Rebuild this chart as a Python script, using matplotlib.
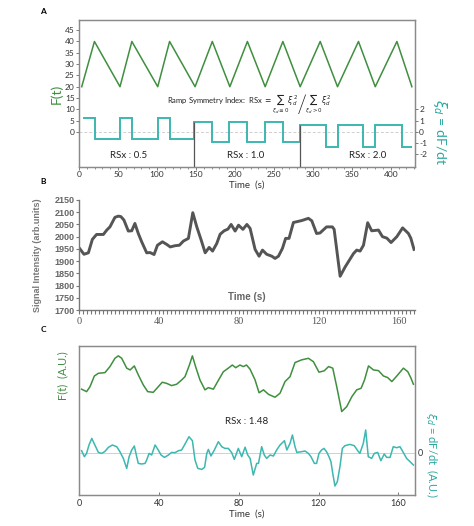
import matplotlib
matplotlib.use('Agg')
import matplotlib.pyplot as plt
from matplotlib.ticker import MultipleLocator

plt.rcParams['font.family'] = ['Lato', 'DejaVu Sans']
plt.rcParams['mathtext.fontset'] = 'dejavusans'
plt.rcParams['axes.unicode_minus'] = False

# ---------------- data ----------------
# Panel A: ramp F(t) vertices
tri_t = [3.5, 19.8, 52.6, 67.8, 101, 116.2, 148.9, 171, 193.5, 216, 238.8, 261.5,
         283.7, 309.4, 331.6, 358.5, 380, 407.8, 427]
tri_v = [20, 40, 20, 40, 20, 40, 20, 40, 20, 40, 20, 40, 20, 40, 20, 40, 20, 40, 20]
# Panel A: derivative square wave (edges and levels)
sq_edges = [5.6, 20.5, 52.6, 67.6, 101, 116.8, 148, 170.3, 192.6, 215.5, 238.8, 261.5,
            283.7, 316.6, 331.6, 364.9, 380, 414.3, 427]
sq_levels = [1.25, -0.65, 1.25, -0.65, 1.25, -0.65, 0.89, -0.95, 0.89, -0.95, 0.89, -0.95,
             0.6, -1.34, 0.6, -1.34, 0.6, -1.34]
seg_bounds = [148, 283.7]
seg_tops = [0.89, 0.6]
seg_labels = ['RSx : 0.5', 'RSx : 1.0', 'RSx : 2.0']
seg_centers = [64, 214, 370]

# Panel B: signal intensity
b_t = [0, 2.5, 4.7, 6.7, 8.8, 12.2, 13.9, 15.5, 18, 19.7, 21, 22.5, 24.7, 26.4, 28, 29.7,
       31.4, 33.9, 35.6, 37.6, 39.3, 41.8, 44, 45.7, 48.1, 50.3, 52.3, 54.8, 57, 59, 61.2,
       63.2, 65.2, 66.9, 69, 70.7, 72.7, 74.6, 76.2, 78.2, 79.9, 82.1, 84.1, 85.7, 88.2,
       90.2, 91.9, 94, 96.6, 98.2, 99.9, 101.9, 103.5, 105.2, 107.4, 111.6, 114.9, 116.6,
       119, 120.7, 124, 126.9, 127.8, 130.8, 133.3, 137.5, 139.1, 140.8, 142.5, 144.6,
       146.6, 150, 152, 154.2, 156.3, 159.2, 162.1, 165, 166.2, 167.8]
b_v = [1955, 1928, 1934, 1989, 2009, 2009, 2027, 2040, 2079, 2084, 2082, 2068, 2023, 2024,
       2054, 2013, 1979, 1934, 1935, 1927, 1965, 1979, 1968, 1958, 1963, 1965, 1982, 1993,
       2098, 2040, 1986, 1934, 1956, 1941, 1972, 2010, 2024, 2031, 2050, 2023, 2047, 2030,
       2050, 2034, 1948, 1920, 1945, 1928, 1920, 1911, 1920, 1952, 1993, 1993, 2058, 2066,
       2075, 2065, 2013, 2015, 2040, 2040, 2030, 1838, 1876, 1931, 1945, 1941, 1965, 2057,
       2024, 2027, 2000, 1994, 1976, 2000, 2036, 2013, 1994, 1948]

# Panel C: smoothed F(t)
c_t = [1.3, 3.8, 5.5, 7.7, 9.7, 13, 15.5, 18, 19.7, 21.4, 23.9, 25.6, 27.7, 29.7, 32.2,
       34.4, 37.2, 39.7, 41.7, 43.9, 46.4, 48.9, 51.4, 53.1, 55.3, 56.8, 58.4, 60.6, 63.1,
       64.8, 67.3, 70.1, 72.3, 74.8, 76.8, 78.5, 80.6, 82.3, 83.9, 85.7, 88.2, 90.2, 92.4,
       94.9, 98.2, 100.7, 103.2, 105.7, 108.2, 111.5, 114.9, 117.4, 120.2, 122.8, 125,
       127.1, 129.1, 131.6, 134.1, 136.7, 139.1, 141.3, 143, 145, 147.5, 150, 152.5, 154.6,
       156.7, 159.2, 162.5, 164.7, 166.3, 167.5]
c_f = [1945, 1934, 1956, 2004, 2016, 2019, 2046, 2083, 2094, 2083, 2039, 2031, 2049, 2009,
       1964, 1934, 1931, 1956, 1976, 1971, 1961, 1967, 1986, 2001, 2053, 2094, 2046, 1986,
       1942, 1952, 1945, 1989, 2023, 2039, 2053, 2041, 2053, 2046, 2053, 2034, 1986, 1929,
       1942, 1922, 1909, 1927, 1979, 2001, 2064, 2076, 2083, 2068, 2021, 2027, 2046, 2039,
       1956, 1845, 1867, 1912, 1942, 1949, 1986, 2049, 2031, 2028, 2004, 1997, 1979, 2004,
       2039, 2023, 1994, 1967]

# Panel C: derivative
d_t = [1.3, 2.7, 3.8, 5, 6.4, 7.7, 9.7, 11.4, 13, 14.7, 16.7, 18.9, 20.5, 22.2, 23.9, 25.1,
       26.4, 27.7, 28.9, 29.7, 31.4, 33.1, 33.9, 35.1, 36.4, 38.1, 39.7, 41.1, 42.8, 44.8,
       46.4, 48.1, 49.8, 51.4, 53.1, 55.1, 56.8, 58.1, 59.5, 61.5, 62.9, 64, 64.8, 66.1,
       67.8, 69.8, 71.5, 73.1, 74.8, 76.5, 77.8, 79.8, 81.5, 83.2, 84.5, 85.7, 87.3, 89,
       89.9, 91.5, 92.8, 94, 95.7, 97.4, 99, 100.7, 102.9, 104.1, 105.7, 106.9, 108.2,
       109.1, 111.5, 113.2, 114.9, 116.2, 117.9, 119, 120.2, 121.5, 122.7, 124, 125.2,
       126.2, 127.1, 128.2, 129.4, 130.7, 131.9, 133.2, 135.7, 137.9, 139.6, 140.7, 142.4,
       143.6, 144.9, 146.6, 147.9, 149.6, 151.2, 152.9, 154.1, 155.8, 157.4, 159.1, 160.8,
       162.5, 164.1, 165.8, 167.5]
d_v = [0.2, -0.4, -0.07, 0.77, 1.43, 0.87, 0.03, -0.07, 0.13, 0.53, 0.77, 0.6, 0.1, -0.57,
       -1.57, -0.4, 0.27, 0.67, -0.4, -1.07, -1.13, -1.07, -0.73, -0.07, -0.23, 0.77, 0.27,
       -0.23, -0.47, -0.23, 0.03, 0, 0.2, 0.27, 0.87, 1.6, 1.2, -0.73, -1.57, -1.67, -1.47,
       -0.07, 0.33, -0.33, 0.27, 1.1, 0.6, 0.43, 0.43, 0, -0.67, 0.43, -0.4, 0.55, -0.23,
       -0.57, -2.23, -1.07, -1.07, 0.6, -0.23, -0.57, -0.23, -0.33, 0.27, 0.77, 1.2, 0.27,
       0.93, 1.77, 0.6, 0.03, 0.1, 0.17, -0.07, -0.4, -1.07, -1.07, -0.07, 0.27, 0.43, 0.1,
       -0.4, -0.9, -2.07, -3.33, -2.9, -1.4, 0.43, 0.7, 0.83, 0.7, 0.2, -0.07, 0.93, 2.27,
       -0.4, -0.57, -0.07, 0.03, -0.8, -0.13, -0.47, -0.47, 0.6, 0.5, 0.6, 0, -0.57, -0.9,
       -1.23]

# ---------------- styling ----------------
GREEN = '#3f8f3f'
TEAL = '#3cb8b0'
TEAL_TXT = '#2aa8a0'
SPINE = '#8a8a8a'
TXT = '#333333'

W, H = 474, 526
fig = plt.figure(figsize=(W / 100, H / 100), dpi=100)


def rect(l, t, r, b):
    return [l / W, 1 - b / H, (r - l) / W, (b - t) / H]


def style_box(ax):
    for s in ax.spines.values():
        s.set_color(SPINE)
        s.set_linewidth(0.9)


# ---------------- Panel A ----------------
axA = fig.add_axes(rect(79, 20, 415, 167))
axA.plot(tri_t, tri_v, color=GREEN, lw=1.1)
axA.set_xlim(0, 431)
axA.set_ylim(-15.5, 49.5)
axA.set_yticks(range(0, 50, 5))
axA.set_xticks(range(0, 450, 50))
axA.xaxis.set_minor_locator(MultipleLocator(10))
axA.tick_params(labelsize=6, length=2, width=0.6, color='#666666', labelcolor=TXT, pad=1)
axA.tick_params(axis='x', which='minor', length=1.5, width=0.5, color='#666666')
axA.set_ylabel('F(t)', color=GREEN, fontsize=10, labelpad=2)
axA.set_xlabel('Time  (s)', fontsize=7, color=TXT, labelpad=1.5)
style_box(axA)

axA2 = axA.twinx()
axA2.axhline(0, color='#cfcfcf', lw=0.7, ls=(0, (3, 2)), zorder=0)
axA2.stairs(sq_levels, sq_edges, color=TEAL, lw=1.4, baseline=None)
axA2.vlines(seg_bounds, -3.15, seg_tops, color='#555555', lw=0.9)
axA2.set_ylim(-3.15, 10)
axA2.set_yticks([-2, -1, 0, 1, 2])
axA2.tick_params(labelsize=6, length=2, width=0.6, color='#666666', labelcolor=TXT, pad=1)
axA2.set_ylabel(r'$\xi_d$ = dF/dt', color=TEAL_TXT, fontsize=10, rotation=270, labelpad=11)
axA2.yaxis.set_label_coords(1.10, 0.24)
style_box(axA2)
for lbl, cx in zip(seg_labels, seg_centers):
    axA2.text(cx, -2.08, lbl, ha='center', va='center', fontsize=7, color='#222222')
axA2.text(219, 2.5,
          r'Ramp Symmetry Index:  RSx $=\sum_{\xi_d\leq0}\xi_d^{\,2}\left/\sum_{\xi_d>0}\xi_d^{\,2}\right.$',
          ha='center', va='center', fontsize=5.5, color='#222222')

fig.text(43 / W, 1 - 12 / H, 'A', fontsize=6, fontweight='bold', ha='center', va='center')
fig.text(43 / W, 1 - 182 / H, 'B', fontsize=6, fontweight='bold', ha='center', va='center')
fig.text(43 / W, 1 - 330 / H, 'C', fontsize=6, fontweight='bold', ha='center', va='center')

# ---------------- Panel B ----------------
GRAYB = '#555555'
axB = fig.add_axes(rect(79, 200, 415, 310))
axB.plot(b_t, b_v, color=GRAYB, lw=2.1, solid_joinstyle='round')
axB.set_xlim(0, 168.3)
axB.set_ylim(1700, 2150)
axB.set_yticks(range(1700, 2151, 50))
axB.set_xticks(range(0, 161, 40))
axB.xaxis.set_minor_locator(MultipleLocator(2))
for s in ['top', 'right']:
    axB.spines[s].set_visible(False)
for s in ['left', 'bottom']:
    axB.spines[s].set_color('#777777')
    axB.spines[s].set_linewidth(1.0)
axB.tick_params(axis='y', labelsize=6.5, length=2, color='#777777', labelcolor='#666666', pad=1)
for t in axB.get_yticklabels():
    t.set_fontweight('bold')
    t.set_family(['Liberation Sans', 'DejaVu Sans'])
axB.tick_params(axis='x', which='both', length=3, width=0.8, color='#777777',
                labelsize=7.5, labelcolor='#555555', pad=2)
for t in axB.get_xticklabels():
    t.set_family(['Liberation Serif', 'DejaVu Serif'])
axB.set_ylabel('Signal Intensity (arb.units)', fontsize=6.5, fontweight='bold',
               color='#777777', family=['Liberation Sans', 'DejaVu Sans'])
axB.yaxis.set_label_coords(-0.11, 0.5)
axB.text(84, 1752, 'Time (s)', ha='center', va='center', fontsize=7, fontweight='bold',
         color='#666666', family=['Liberation Sans', 'DejaVu Sans'])

# ---------------- Panel C ----------------
axC = fig.add_axes(rect(79, 346, 415, 495))
axC.plot(c_t, c_f, color=GREEN, lw=1.1)
axC.set_xlim(0, 168.3)
axC.set_ylim(1472, 2138)
axC.set_yticks([])
axC.set_xticks(range(0, 161, 40))
axC.tick_params(axis='x', direction='in', length=2, width=0.6, color='#666666',
                labelsize=6.5, labelcolor=TXT, pad=3)
axC.set_ylabel('F(t)  (A.U.)', color=GREEN, fontsize=8, labelpad=6)
axC.yaxis.set_label_coords(-0.033, 0.8)
axC.set_xlabel('Time  (s)', fontsize=7, color=TXT, labelpad=1)
style_box(axC)

axC2 = axC.twinx()
axC2.axhline(0, color='#d0d0d0', lw=0.7, zorder=0)
axC2.plot(d_t, d_v, color=TEAL, lw=1.1)
axC2.set_ylim(-4.23, 10.67)
axC2.set_yticks([0])
axC2.tick_params(length=0, labelsize=6.5, labelcolor=TXT, pad=2)
axC2.set_ylabel(r'$\xi_d$ = dF/dt  (A.U.)', color=TEAL_TXT, fontsize=8, rotation=270, labelpad=10)
axC2.yaxis.set_label_coords(1.075, 0.27)
style_box(axC2)
axC2.text(84, 3.1, 'RSx : 1.48', ha='center', va='center', fontsize=7, color='#222222')

fig.savefig('out.png', dpi=100)
